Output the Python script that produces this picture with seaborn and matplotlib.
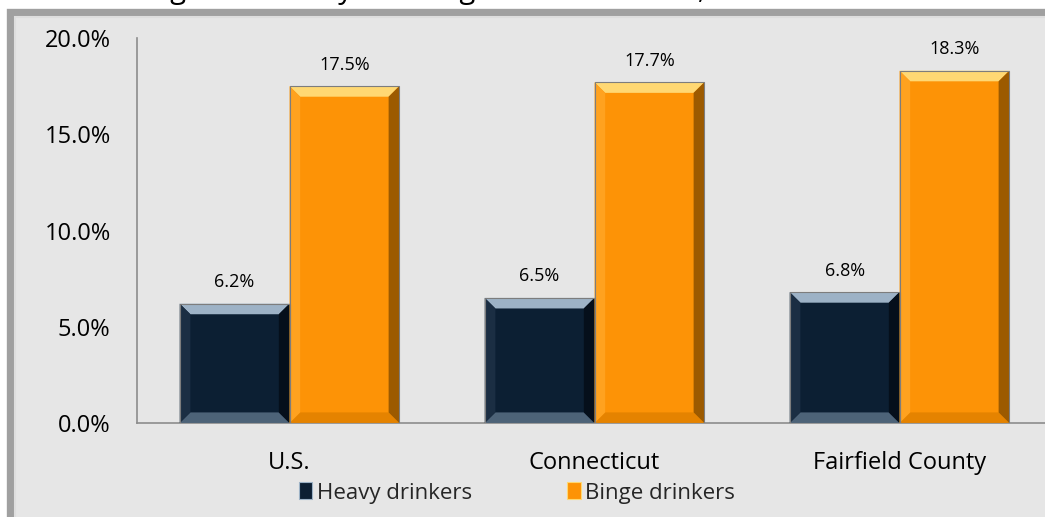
import matplotlib
matplotlib.use("Agg")
import matplotlib.pyplot as plt
import seaborn as sns
import pandas as pd
from matplotlib.patches import Polygon, Rectangle
from matplotlib.ticker import PercentFormatter, MultipleLocator

categories = ["U.S.", "Connecticut", "Fairfield County"]
series_names = ["Heavy drinkers", "Binge drinkers"]
heavy = [6.2, 6.5, 6.8]
binge = [17.5, 17.7, 18.3]
title_text = "Binge and Heavy Drinking Rates for Adults, 2014"

colors = {"Heavy drinkers": "#0c1f33", "Binge drinkers": "#fd9306"}
bevel = {
    "Heavy drinkers": {"top": "#9db2c6", "bottom": "#4d6378", "left": "#1b2e43", "right": "#050f1b"},
    "Binge drinkers": {"top": "#ffd873", "bottom": "#e58300", "left": "#ffa21f", "right": "#9c5a00"},
}

df = pd.DataFrame({
    "category": categories * 2,
    "series": [series_names[0]] * 3 + [series_names[1]] * 3,
    "value": heavy + binge,
})

sns.set_theme(style="white")
plt.rcParams["font.family"] = ["Open Sans", "DejaVu Sans"]

fig = plt.figure(figsize=(10.45, 5.17), dpi=100)
fig.patch.set_facecolor("white")

# beveled gray chart frame
fig.patches.append(Rectangle((11 / 1045, -0.05), 1.05, 1 - 13 / 517 + 0.05,
                             transform=fig.transFigure, facecolor="#e6e6e6",
                             edgecolor="#a0a0a0", linewidth=6, zorder=-10))
fig.patches.append(Rectangle((15 / 1045, -0.05), 1.05, 1 - 17 / 517 + 0.05,
                             transform=fig.transFigure, facecolor="none",
                             edgecolor="#dedede", linewidth=1.5, zorder=-9))

# cut-off title (only descenders visible, as in the reference)
fig.text(126 / 1045, 1 + 2 / 517, title_text, fontsize=21, color="black",
         ha="left", va="baseline")

ax = fig.add_axes([137 / 1045, 1 - 423 / 517, 915 / 1045, 385 / 517])
ax.set_facecolor("none")

sns.barplot(data=df, x="category", y="value", hue="series", order=categories,
            hue_order=series_names, palette=colors, width=0.72, ax=ax,
            saturation=1, edgecolor="none", legend=False)

ax.set_ylim(0, 20)
ax.set_xlim(-0.5, 2.5)
ax.yaxis.set_major_locator(MultipleLocator(5))
ax.yaxis.set_major_formatter(PercentFormatter(decimals=1))
ax.set_xlabel("")
ax.set_ylabel("")
for s in ["top", "right"]:
    ax.spines[s].set_visible(False)
for s in ["left", "bottom"]:
    ax.spines[s].set_color("#8c8c8c")
    ax.spines[s].set_linewidth(1.2)
ax.tick_params(axis="y", length=0, labelsize=17, pad=19, colors="black")
ax.tick_params(axis="x", length=0, labelsize=17, pad=20, colors="black")

# bevel effect and value labels
bx = 0.035
by = 0.55
for container, name in zip(ax.containers, series_names):
    bc = bevel[name]
    for p in container.patches:
        x0, w, h = p.get_x(), p.get_width(), p.get_height()
        x1 = x0 + w
        polys = {
            "top": [(x0, h), (x1, h), (x1 - bx, h - by), (x0 + bx, h - by)],
            "bottom": [(x0, 0), (x1, 0), (x1 - bx, by), (x0 + bx, by)],
            "left": [(x0, 0), (x0 + bx, by), (x0 + bx, h - by), (x0, h)],
            "right": [(x1, 0), (x1 - bx, by), (x1 - bx, h - by), (x1, h)],
        }
        for k, pts in polys.items():
            ax.add_patch(Polygon(pts, closed=True, facecolor=bc[k], edgecolor="none", zorder=3))
        ax.add_patch(Rectangle((x0, 0), w, h, facecolor="none", edgecolor="#7d7d7d",
                               linewidth=0.8, zorder=4))
        ax.annotate(f"{h:.1f}%", (x0 + w / 2, h), xytext=(0, 9), textcoords="offset points",
                    ha="center", va="bottom", fontsize=13, color="black")

# legend
handles = [Rectangle((0, 0), 1, 1, facecolor=colors[n], edgecolor=bevel[n]["top"], linewidth=0.8)
           for n in series_names]
fig.legend(handles, series_names, loc="center", bbox_to_anchor=(517 / 1045, 1 - 493 / 517),
           ncol=2, frameon=False, fontsize=16, handlelength=0.6, handleheight=0.8,
           handletextpad=0.2, columnspacing=4.3)

fig.savefig("out.png", dpi=100)
